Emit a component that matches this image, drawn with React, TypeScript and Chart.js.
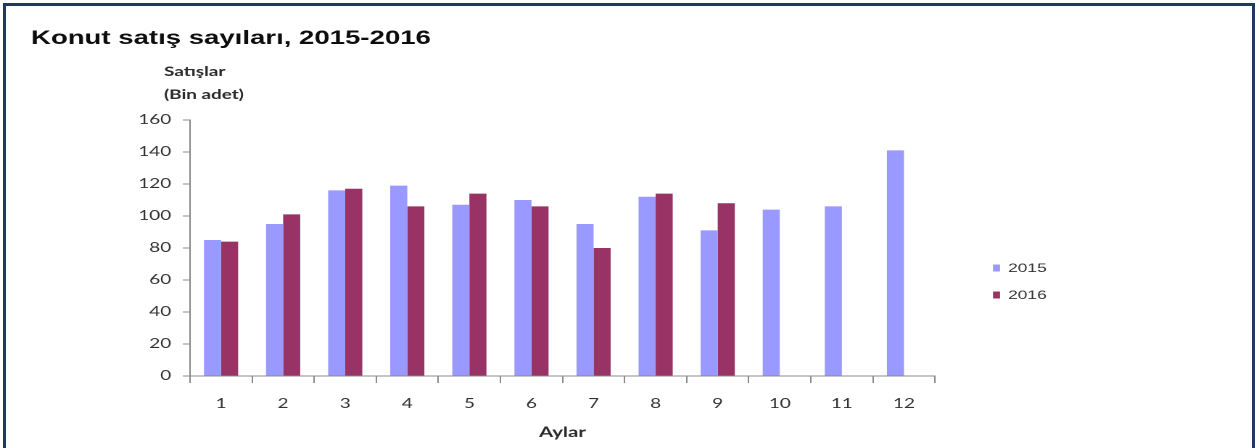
import React, { useEffect, useRef } from "react";
import { Chart, registerables } from "chart.js";

Chart.register(...registerables);

const months: string[] = ["1", "2", "3", "4", "5", "6", "7", "8", "9", "10", "11", "12"];
const sales2015: (number | null)[] = [85, 95, 116, 119, 107, 110, 95, 112, 91, 104, 106, 141];
const sales2016: (number | null)[] = [84, 101, 117, 106, 114, 106, 80, 114, 108, null, null, null];
const seriesNames: string[] = ["2015", "2016"];
const yTicks: number[] = [0, 20, 40, 60, 80, 100, 120, 140, 160];
const titleText = "Konut satış sayıları, 2015-2016";
const yTitleLines: string[] = ["Satışlar", "(Bin adet)"];
const xTitleText = "Aylar";

const FULL_W = 1259;
const H = 448;
const W = 868;
const S = FULL_W / W;

const COLORS = ["#9999FF", "#993366"];

const textPlugin = {
  id: "refTexts",
  afterDraw(chart: any) {
    const ctx = chart.ctx as CanvasRenderingContext2D;
    const area = chart.chartArea;
    ctx.save();
    // title
    ctx.fillStyle = "#0d0d0d";
    ctx.font = "bold 19px 'Liberation Sans', Arial, sans-serif";
    ctx.textAlign = "left";
    ctx.textBaseline = "alphabetic";
    ctx.fillText(titleText, 31 / S, 44);
    // y header
    ctx.fillStyle = "#2b2b2b";
    ctx.font = "bold 13px Lato, sans-serif";
    ctx.fillText(yTitleLines[0], 164 / S, 76);
    ctx.fillText(yTitleLines[1], 164 / S, 99);
    // x title
    ctx.textAlign = "center";
    ctx.font = "bold 14px Lato, sans-serif";
    ctx.fillText(xTitleText, (area.left + area.right) / 2, 437);
    // legend
    ctx.textAlign = "left";
    ctx.textBaseline = "middle";
    ctx.font = "12px 'Liberation Sans', Arial, sans-serif";
    const legendY = [268, 295];
    chart.data.datasets.forEach((ds: any, i: number) => {
      ctx.fillStyle = ds.backgroundColor;
      ctx.fillRect(993 / S, legendY[i] - 3.5, 7 / S, 7);
      ctx.fillStyle = "#333333";
      ctx.fillText(ds.label, 1008 / S, legendY[i] + 0.5);
    });
    ctx.restore();
  },
};

export default function App() {
  const canvasRef = useRef<HTMLCanvasElement | null>(null);

  useEffect(() => {
    if (!canvasRef.current) return;
    const chart = new Chart(canvasRef.current, {
      type: "bar",
      data: {
        labels: months,
        datasets: [
          {
            label: seriesNames[0],
            data: sales2015,
            backgroundColor: COLORS[0],
            borderWidth: 0,
            categoryPercentage: 0.55,
            barPercentage: 1.0,
          },
          {
            label: seriesNames[1],
            data: sales2016,
            backgroundColor: COLORS[1],
            borderWidth: 0,
            categoryPercentage: 0.55,
            barPercentage: 1.0,
          },
        ],
      },
      options: {
        animation: false,
        responsive: false,
        devicePixelRatio: 2,
        layout: {
          padding: { left: 0, top: 120, right: (FULL_W - 935) / S, bottom: 32 },
        },
        plugins: {
          legend: { display: false },
          title: { display: false },
          tooltip: { enabled: false },
        },
        scales: {
          x: {
            offset: true,
            grid: {
              offset: true,
              drawOnChartArea: false,
              drawTicks: true,
              tickLength: 7,
              color: "#8a8a8a",
            },
            border: { color: "#8a8a8a", width: 1 },
            ticks: {
              color: "#333333",
              font: { family: "Lato, sans-serif", size: 13 },
              padding: 13,
              maxRotation: 0,
            },
            afterFit(scale: any) {
              scale.height = 40;
            },
          },
          y: {
            min: yTicks[0],
            max: yTicks[yTicks.length - 1],
            afterBuildTicks(scale: any) {
              scale.ticks = yTicks.map((v) => ({ value: v }));
            },
            grid: {
              drawOnChartArea: false,
              drawTicks: true,
              tickLength: 5,
              color: "#8a8a8a",
            },
            border: { color: "#8a8a8a", width: 1 },
            ticks: {
              color: "#333333",
              font: { family: "Lato, sans-serif", size: 13 },
              padding: 8,
            },
            afterFit(scale: any) {
              scale.width = 190 / S;
            },
          },
        },
      },
      plugins: [textPlugin],
    });
    return () => chart.destroy();
  }, []);

  return (
    <div
      style={{
        position: "fixed",
        left: 0,
        top: 0,
        width: FULL_W,
        height: H,
        background: "#ffffff",
        overflow: "hidden",
      }}
    >
      <div
        style={{
          position: "absolute",
          left: 0,
          top: 0,
          width: W,
          height: H,
          transform: `scaleX(${S})`,
          transformOrigin: "0 0",
        }}
      >
        <canvas ref={canvasRef} width={W} height={H} />
      </div>
      <div
        style={{
          position: "absolute",
          left: 3,
          top: 3,
          width: 1252,
          height: 460,
          boxSizing: "border-box",
          borderTop: "3px solid #1F3864",
          borderLeft: "3px solid #1F3864",
          borderRight: "3px solid #1F3864",
          pointerEvents: "none",
        }}
      />
    </div>
  );
}
